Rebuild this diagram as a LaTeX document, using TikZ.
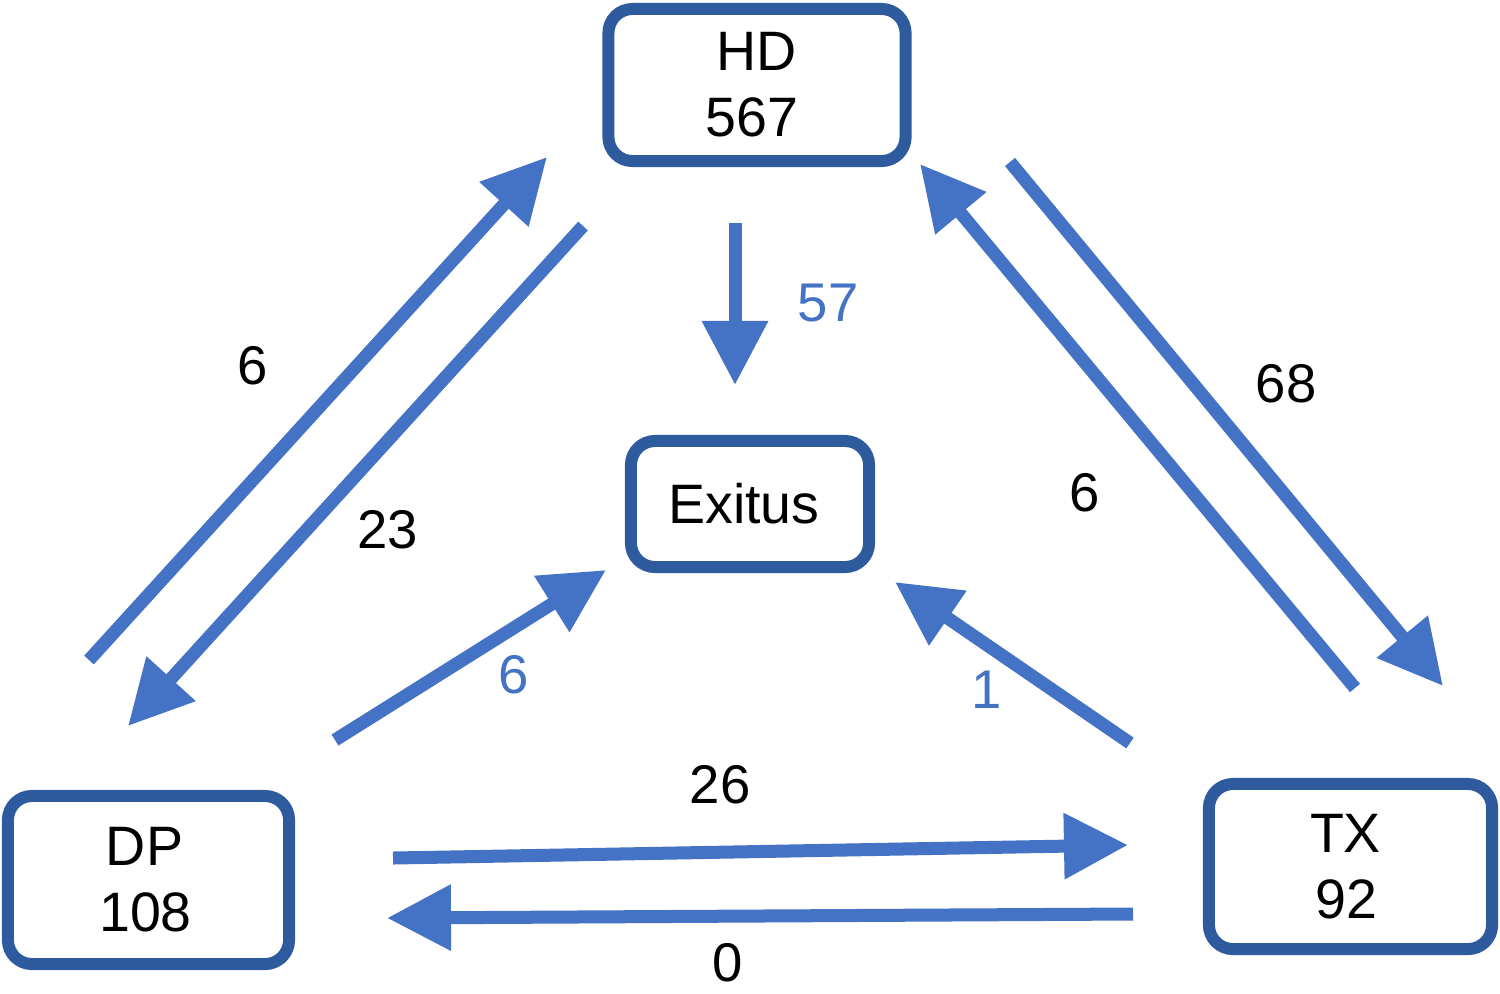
\documentclass[tikz,border=0pt]{standalone}
\usepackage{fontspec}
\setmainfont{Liberation Sans}
\usetikzlibrary{arrows.meta}
\definecolor{boxblue}{HTML}{2E5A9E}
\definecolor{arrblue}{HTML}{4472C4}
\begin{document}
\begin{tikzpicture}[x=0.01cm,y=-0.01cm,
  box/.style={draw=boxblue, line width=0.12cm, rounded corners=0.24cm, fill=white,
    align=center, inner sep=0pt, font=\fontsize{15.8}{18.8}\selectfont},
  flow/.style={draw=arrblue, line width=0.13cm, -{Triangle[length=0.64cm,width=0.63cm]}},
  num/.style={font=\fontsize{15.5}{18}\selectfont, inner sep=0pt},
  bnum/.style={num, text=arrblue}]
\useasboundingbox (0,0) rectangle (1500,993);

% boxes
\node[box, minimum width=2.97cm, minimum height=1.52cm] (HD) at (757,85) {HD\\567\hspace*{0.1cm}};
\node[box, minimum width=2.38cm, minimum height=1.26cm] (EX) at (750,504) {Exitus\hspace*{0.12cm}};
\node[box, minimum width=2.81cm, minimum height=1.68cm] (DP) at (148.5,880) {DP\hspace*{0.08cm}\\108\hspace*{0.06cm}};
\node[box, minimum width=2.83cm, minimum height=1.65cm] (TX) at (1350.5,866.5) {TX\hspace*{0.1cm}\\92\hspace*{0.08cm}};

% arrow end points
\coordinate (dphdA) at (89,660);   \coordinate (dphdB) at (547,157);
\coordinate (hddpA) at (583,226);  \coordinate (hddpB) at (128,726);
\coordinate (hdexA) at (735,223);  \coordinate (hdexB) at (735,385);
\coordinate (hdtxA) at (1010,162); \coordinate (hdtxB) at (1443,686);
\coordinate (txhdA) at (1355,688); \coordinate (txhdB) at (920,164);
\coordinate (dpexA) at (335,740);  \coordinate (dpexB) at (606,570);
\coordinate (txexA) at (1130,743); \coordinate (txexB) at (895,582);
\coordinate (dptxA) at (393,858);  \coordinate (dptxB) at (1128,845);
\coordinate (txdpA) at (1133,914); \coordinate (txdpB) at (387,918);

% connectors
\draw[flow] (dphdA) -- (dphdB);
\draw[flow] (hddpA) -- (hddpB);
\draw[flow] (hdexA) -- (hdexB);
\draw[flow] (hdtxA) -- (hdtxB);
\draw[flow] (txhdA) -- (txhdB);
\draw[flow] (dpexA) -- (dpexB);
\draw[flow] (txexA) -- (txexB);
\draw[flow] (dptxA) -- (dptxB);
\draw[flow] (txdpA) -- (txdpB);

% labels
\node[num] (l1) at (253,366) {6};
\node[num] (l2) at (388,530) {23};
\node[bnum] (l3) at (828,303) {57};
\node[num] (l4) at (1286,384) {68};
\node[num] (l5) at (1085,493) {6};
\node[bnum] (l6) at (514,675) {6};
\node[bnum] (l7) at (987,690) {1};
\node[num] (l8) at (720,785) {26};
\node[num] (l9) at (728,963) {0};
\end{tikzpicture}
\end{document}
